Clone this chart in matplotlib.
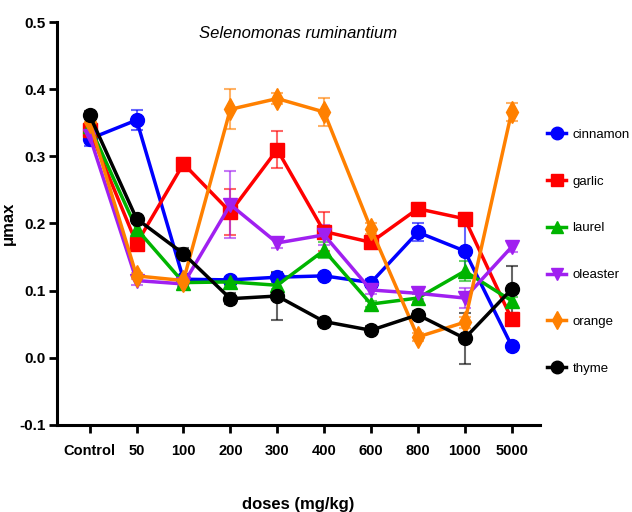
import matplotlib
matplotlib.use("Agg")
import matplotlib.pyplot as plt
from matplotlib.lines import Line2D
import numpy as np

plt.rcParams['font.family'] = ['Liberation Sans', 'DejaVu Sans']

doses = ["Control", "50", "100", "200", "300", "400", "600", "800", "1000", "5000"]
series_names = ["cinnamon", "garlic", "laurel", "oleaster", "orange", "thyme"]

cinnamon = [0.326, 0.354, 0.117, 0.116, 0.120, 0.122, 0.112, 0.187, 0.159, 0.018]
garlic   = [0.339, 0.170, 0.289, 0.217, 0.310, 0.188, 0.172, 0.222, 0.207, 0.058]
laurel   = [0.345, 0.192, 0.112, 0.113, 0.108, 0.160, 0.080, 0.089, 0.129, 0.085]
oleaster = [0.330, 0.115, 0.110, 0.228, 0.171, 0.183, 0.101, 0.096, 0.089, 0.165]
orange   = [0.351, 0.122, 0.115, 0.370, 0.386, 0.366, 0.192, 0.031, 0.053, 0.366]
thyme    = [0.361, 0.207, 0.155, 0.088, 0.092, 0.054, 0.041, 0.064, 0.029, 0.102]

cinnamon_err = [0.010, 0.015, 0.005, 0.005, 0.006, 0.005, 0.006, 0.013, 0.040, 0.004]
garlic_err   = [0.006, 0.006, 0.008, 0.034, 0.027, 0.029, 0.010, 0.008, 0.008, 0.006]
laurel_err   = [0.005, 0.008, 0.005, 0.005, 0.005, 0.012, 0.005, 0.006, 0.015, 0.006]
oleaster_err = [0.005, 0.006, 0.005, 0.050, 0.008, 0.015, 0.006, 0.008, 0.015, 0.008]
orange_err   = [0.006, 0.005, 0.005, 0.030, 0.008, 0.021, 0.008, 0.006, 0.008, 0.014]
thyme_err    = [0.006, 0.006, 0.008, 0.008, 0.036, 0.006, 0.006, 0.006, 0.038, 0.035]

values = [cinnamon, garlic, laurel, oleaster, orange, thyme]
errors = [cinnamon_err, garlic_err, laurel_err, oleaster_err, orange_err, thyme_err]
colors = ["#0000ff", "#ff0000", "#00b400", "#a020f0", "#ff8000", "#000000"]
markers = ["o", "s", "^", "v", "d", "o"]

fig = plt.figure(figsize=(6.32, 5.12), dpi=100)
ax = fig.add_axes([0.090, 0.170, 0.764, 0.787])

x = np.arange(len(doses))
handles = []
for name, v, e, c, m in zip(series_names, values, errors, colors, markers):
    ax.errorbar(x, v, yerr=e, fmt='none', ecolor=c, alpha=0.6, elinewidth=1.5,
                capsize=4, capthick=1.5, zorder=2)
    ax.plot(x, v, color=c, lw=2.5, marker=m, markersize=10 if m != 'd' else 11,
            markeredgecolor=c, zorder=3)
    handles.append(Line2D([0], [0], color=c, lw=2.5, marker=m, markersize=9,
                          markeredgecolor=c))

ax.set_xlim(-0.7, 9.6)
ax.set_ylim(-0.1, 0.5)
ax.set_xticks(x)
ax.set_xticklabels(doses, fontsize=10.5, fontweight='bold')
ax.set_yticks([-0.1, 0.0, 0.1, 0.2, 0.3, 0.4, 0.5])
ax.set_yticklabels(["-0.1", "0.0", "0.1", "0.2", "0.3", "0.4", "0.5"],
                   fontsize=11, fontweight='bold')
for s in ["top", "right"]:
    ax.spines[s].set_visible(False)
for s in ["left", "bottom"]:
    ax.spines[s].set_linewidth(2.2)
ax.tick_params(axis='both', direction='out', length=6, width=2)
ax.tick_params(axis='y', pad=2)
ax.tick_params(axis='x', pad=8)

ax.set_title("Selenomonas ruminantium", fontsize=12, style='italic', y=0.94)
ax.set_ylabel("μmax", fontsize=12, fontweight='bold')
ax.yaxis.set_label_coords(-0.085, 0.5)
ax.set_xlabel("doses (mg/kg)", fontsize=12, fontweight='bold', labelpad=28)

fig.legend(handles, series_names, loc='upper left', bbox_to_anchor=(0.862, 0.754),
           frameon=False, fontsize=9.5, labelspacing=2.62, handlelength=1.4,
           handletextpad=0.5, borderaxespad=0.0, borderpad=0.2)

fig.savefig("out.png", dpi=100)
